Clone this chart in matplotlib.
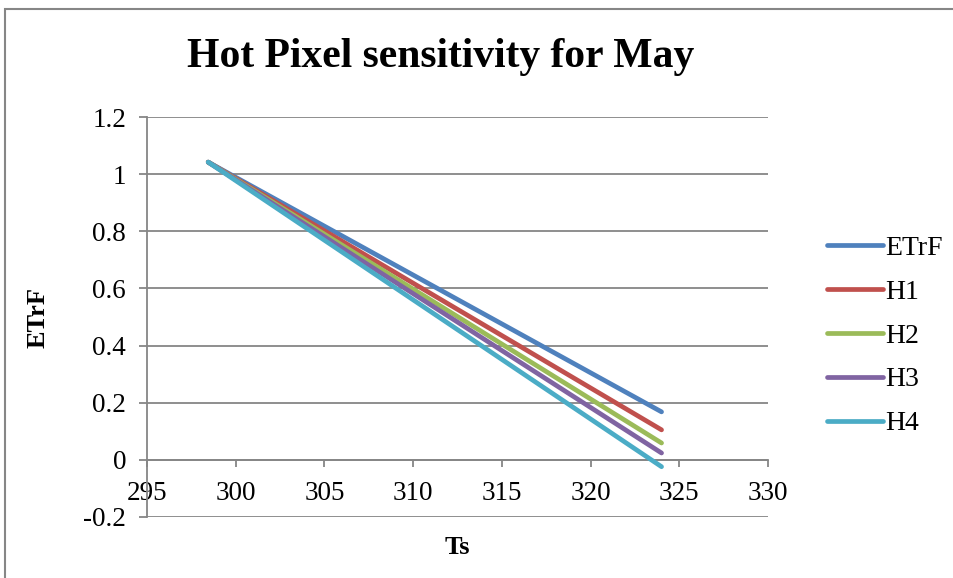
import matplotlib
matplotlib.use("Agg")
import matplotlib.pyplot as plt
from matplotlib.patches import Rectangle

# data: each series is a straight line between two points
ts = [298.45, 324.0]
names = ["ETrF", "H1", "H2", "H3", "H4"]
etrf_start = [1.042, 1.042, 1.042, 1.042, 1.042]
etrf_end = [0.168, 0.105, 0.059, 0.024, -0.024]
colors = ["#4F81BD", "#C0504D", "#9BBB59", "#8064A2", "#4BACC6"]

x_ticks = [295, 300, 305, 310, 315, 320, 325, 330]
y_ticks = [-0.2, 0, 0.2, 0.4, 0.6, 0.8, 1, 1.2]
y_labels = ["-0.2", "0", "0.2", "0.4", "0.6", "0.8", "1", "1.2"]

plt.rcParams['font.family'] = ['Liberation Serif', 'DejaVu Serif']
grey = "#868686"

fig = plt.figure(figsize=(9.54, 5.78), dpi=100)
ax = fig.add_axes([147/954, 1 - 517/578, (768 - 147)/954, (517 - 117)/578])

# outer chart frame (only top and left visible in the picture)
fig.patches.append(Rectangle((5/954, -0.1), 1.2, 1 - 9/578 + 0.1, transform=fig.transFigure,
                             fill=False, edgecolor=grey, linewidth=1.5))

for i in range(len(names)):
    ax.plot(ts, [etrf_start[i], etrf_end[i]], color=colors[i], linewidth=3.4,
            solid_capstyle='round', label=names[i], zorder=3)

ax.set_xlim(295, 330)
ax.set_ylim(-0.2, 1.2)
ax.set_xticks(x_ticks)
ax.set_yticks(y_ticks)
ax.set_yticklabels(y_labels)

for yv in y_ticks:
    ax.axhline(yv, color=grey, linewidth=1.3, zorder=1)

ax.spines['top'].set_visible(False)
ax.spines['right'].set_visible(False)
ax.spines['bottom'].set_position(('data', 0))
ax.spines['bottom'].set_color(grey)
ax.spines['left'].set_color(grey)
ax.spines['bottom'].set_linewidth(1.3)
ax.spines['left'].set_linewidth(1.3)

ax.tick_params(axis='x', direction='out', length=5, width=1.3, color=grey, pad=10, labelsize=19.5)
ax.tick_params(axis='y', direction='out', length=6, width=1.3, color=grey, pad=9, labelsize=19.5)

fig.text(441/954, 1 - 57/578, "Hot Pixel sensitivity for May", ha='center', va='center',
         fontsize=30, fontweight='bold')
fig.text(457/954, 1 - 548/578, "Ts", ha='center', va='center', fontsize=19, fontweight='bold')
fig.text(38/954, 1 - 317/578, "ETrF", ha='center', va='center', rotation=90, fontsize=19, fontweight='bold')

ax.legend(loc='center left', bbox_to_anchor=(827/954, 1 - 336/578), bbox_transform=fig.transFigure,
          frameon=False, fontsize=20, handlelength=2.0, handletextpad=0.1, labelspacing=0.66,
          borderaxespad=0, borderpad=0)

fig.savefig("out.png", dpi=100)
